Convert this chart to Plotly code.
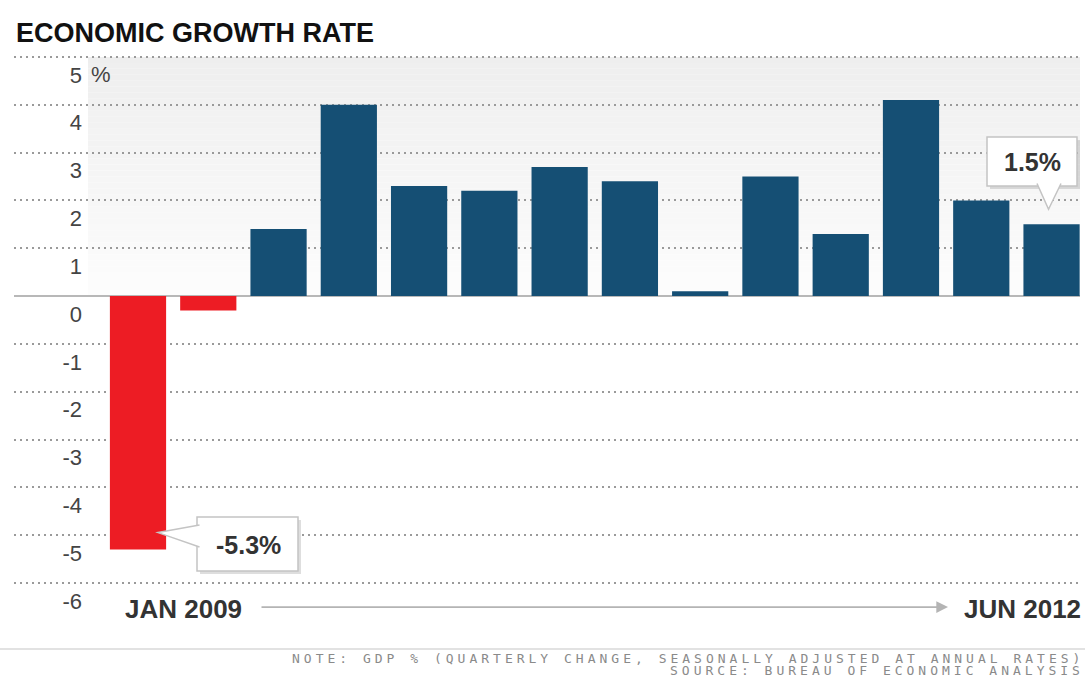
import plotly.graph_objects as go

# ---------------- data ----------------
quarters = ["Q1 2009", "Q2 2009", "Q3 2009", "Q4 2009",
            "Q1 2010", "Q2 2010", "Q3 2010", "Q4 2010",
            "Q1 2011", "Q2 2011", "Q3 2011", "Q4 2011",
            "Q1 2012", "Q2 2012"]
growth = [-5.3, -0.3, 1.4, 4.0, 2.3, 2.2, 2.7, 2.4, 0.1, 2.5, 1.3, 4.1, 2.0, 1.5]
y_ticks = [5, 4, 3, 2, 1, 0, -1, -2, -3, -4, -5, -6]
y_tick_labels = ["5", "4", "3", "2", "1", "0", "-1", "-2", "-3", "-4", "-5", "-6"]
title_text = "ECONOMIC GROWTH RATE"
start_label = "JAN 2009"
end_label = "JUN 2012"
note_text = "NOTE: GDP % (QUARTERLY CHANGE, SEASONALLY ADJUSTED AT ANNUAL RATES)"
source_text = "SOURCE: BUREAU OF ECONOMIC ANALYSIS"

# ---------------- layout geometry ----------------
W, H = 1085, 679
Y_TOP_PX, Y_BOT_PX = 57, 583          # pixel rows of the 5 and -6 grid lines
Y_LO, Y_HI = -6, 5
PADV = 0.04                            # small range padding so edge grid lines are drawn
SCALE = (Y_BOT_PX - Y_TOP_PX) / (Y_HI - Y_LO)
YMIN, YMAX = Y_LO - PADV, Y_HI + PADV
ML, MR = 14, 5
MT = Y_TOP_PX - PADV * SCALE
MB = H - (Y_BOT_PX + PADV * SCALE)
PW, PH = W - ML - MR, H - MT - MB
XMIN, XMAX = -1.7646, 13.405

BLUE = "#154f74"
RED = "#ed1c24"


def px(i):
    return ML + (i - XMIN) / (XMAX - XMIN) * PW


def py(v):
    return MT + (YMAX - v) / (YMAX - YMIN) * PH


def paper_x(p):
    return (p - ML) / PW


def paper_y(p):
    return (H - MB - p) / PH


colors = [RED if v < 0 else BLUE for v in growth]

fig = go.Figure()
fig.add_trace(go.Bar(
    x=quarters, y=growth,
    marker=dict(color=colors, line=dict(width=0)),
    hoverinfo="x+y",
))

shapes = []
# gradient background above zero (left edge where the value labels end)
GRAD_LEFT = 88
N = 40
for k in range(N):
    v0 = Y_HI * k / N
    v1 = Y_HI * (k + 1) / N
    t = (k + 0.5) / N
    g = round(253 - t * (253 - 238))
    shapes.append(dict(type="rect", xref="paper", yref="y",
                       x0=paper_x(GRAD_LEFT), x1=1, y0=v0, y1=v1,
                       fillcolor=f"rgb({g},{g},{g})", line=dict(width=0),
                       layer="below"))

# footer separator
shapes.append(dict(type="line", xref="paper", yref="paper",
                   x0=paper_x(0), x1=paper_x(W), y0=paper_y(649), y1=paper_y(649),
                   line=dict(color="#e2e2e2", width=2)))


def callout(box_l, box_t, box_w, box_h, pointer):
    out = []
    # shadow
    out.append(dict(type="rect", xref="paper", yref="paper",
                    x0=paper_x(box_l + 3), x1=paper_x(box_l + box_w + 3),
                    y0=paper_y(box_t + box_h + 3), y1=paper_y(box_t + 3),
                    fillcolor="rgba(0,0,0,0.13)", line=dict(width=0), layer="above"))
    # box
    out.append(dict(type="rect", xref="paper", yref="paper",
                    x0=paper_x(box_l), x1=paper_x(box_l + box_w),
                    y0=paper_y(box_t + box_h), y1=paper_y(box_t),
                    fillcolor="white", line=dict(color="#c4c4c4", width=1.5),
                    layer="above"))
    # pointer
    pts = " L ".join(f"{paper_x(a):.5f} {paper_y(b):.5f}" for a, b in pointer)
    out.append(dict(type="path", xref="paper", yref="paper",
                    path="M " + pts,
                    fillcolor="white", line=dict(color="#c4c4c4", width=1.5),
                    layer="above"))
    return out


# callout for first bar (-5.3%)
i0 = 0
tip0 = (px(i0) + 20, py(growth[i0]) - 17)
shapes += callout(197, 517, 101, 54,
                  [(199.5, 525), tip0, (199.5, 547)])
# callout for last bar (1.5%)
i1 = len(growth) - 1
tip1 = (px(i1) - 3, py(growth[i1]) - 15)
shapes += callout(987, 137, 90, 49,
                  [(1037, 183.5), tip1, (1061, 183.5)])

annotations = [
    # % sign next to the top tick label
    dict(text="%", xref="paper", yref="y", x=paper_x(89), y=Y_HI, yshift=-18,
         xanchor="left", yanchor="middle", showarrow=False,
         font=dict(family="Liberation Sans, Arial", size=22, color="#444")),
    # callout texts
    dict(text="<b>-5.3%</b>", xref="paper", yref="paper",
         x=paper_x(248), y=paper_y(545), xanchor="center", yanchor="middle",
         showarrow=False, font=dict(family="Liberation Sans, Arial", size=25, color="#333")),
    dict(text="<b>1.5%</b>", xref="paper", yref="paper",
         x=paper_x(1032), y=paper_y(162), xanchor="center", yanchor="middle",
         showarrow=False, font=dict(family="Liberation Sans, Arial", size=25, color="#333")),
    # time span labels
    dict(text=f"<b>{start_label}</b>", xref="paper", yref="paper",
         x=paper_x(123), y=paper_y(609), xanchor="left", yanchor="middle",
         showarrow=False, font=dict(family="Liberation Sans, Arial", size=26, color="#333")),
    dict(text=f"<b>{end_label}</b>", xref="paper", yref="paper",
         x=paper_x(1083), y=paper_y(609), xanchor="right", yanchor="middle",
         showarrow=False, font=dict(family="Liberation Sans, Arial", size=26, color="#333")),
    # arrow
    dict(text="", xref="paper", yref="paper", x=paper_x(948), y=paper_y(607),
         ax=-(948 - 260), ay=0, axref="pixel", ayref="pixel",
         showarrow=True, arrowhead=2, arrowsize=1.3, arrowwidth=1.8,
         arrowcolor="#b4b4b4"),
    # footer
    dict(text=f'<span style="letter-spacing:4px">{note_text}</span>',
         xref="paper", yref="paper", x=paper_x(1086), y=paper_y(658),
         xanchor="right", yanchor="middle", showarrow=False,
         font=dict(family="DejaVu Sans Mono", size=13, color="#8a8a8a")),
    dict(text=f'<span style="letter-spacing:4px">{source_text}</span>',
         xref="paper", yref="paper", x=paper_x(1086), y=paper_y(670),
         xanchor="right", yanchor="middle", showarrow=False,
         font=dict(family="DejaVu Sans Mono", size=13, color="#8a8a8a")),
]

fig.update_layout(
    width=W, height=H,
    margin=dict(l=ML, r=MR, t=MT, b=MB, pad=0),
    paper_bgcolor="white", plot_bgcolor="white",
    showlegend=False,
    bargap=0.2,
    title=dict(text=title_text, x=16 / W, xref="container", xanchor="left",
               y=1 - 33 / H, yref="container", yanchor="middle",
               font=dict(family="Liberation Sans, Arial", size=27, color="#111", weight=700)),
    xaxis=dict(type="category", range=[XMIN, XMAX], showticklabels=False,
               showgrid=False, zeroline=False, showline=False, ticks="",
               fixedrange=True),
    yaxis=dict(range=[YMIN, YMAX], anchor="free", position=paper_x(GRAD_LEFT),
               tickvals=y_ticks, ticktext=y_tick_labels,
               ticks="", ticklabelstandoff=6, ticklabelshift=18,
               tickfont=dict(family="Liberation Sans, Arial", size=22, color="#444"),
               showgrid=True, gridcolor="#9a9a9a", gridwidth=1.5, griddash="2px,4px",
               zeroline=True, zerolinecolor="#b8b8b8", zerolinewidth=2,
               showline=False, fixedrange=True),
    shapes=shapes,
    annotations=annotations,
)

fig.write_html("out.html", config={"displayModeBar": False},
               post_script="document.body.style.margin='0';")
